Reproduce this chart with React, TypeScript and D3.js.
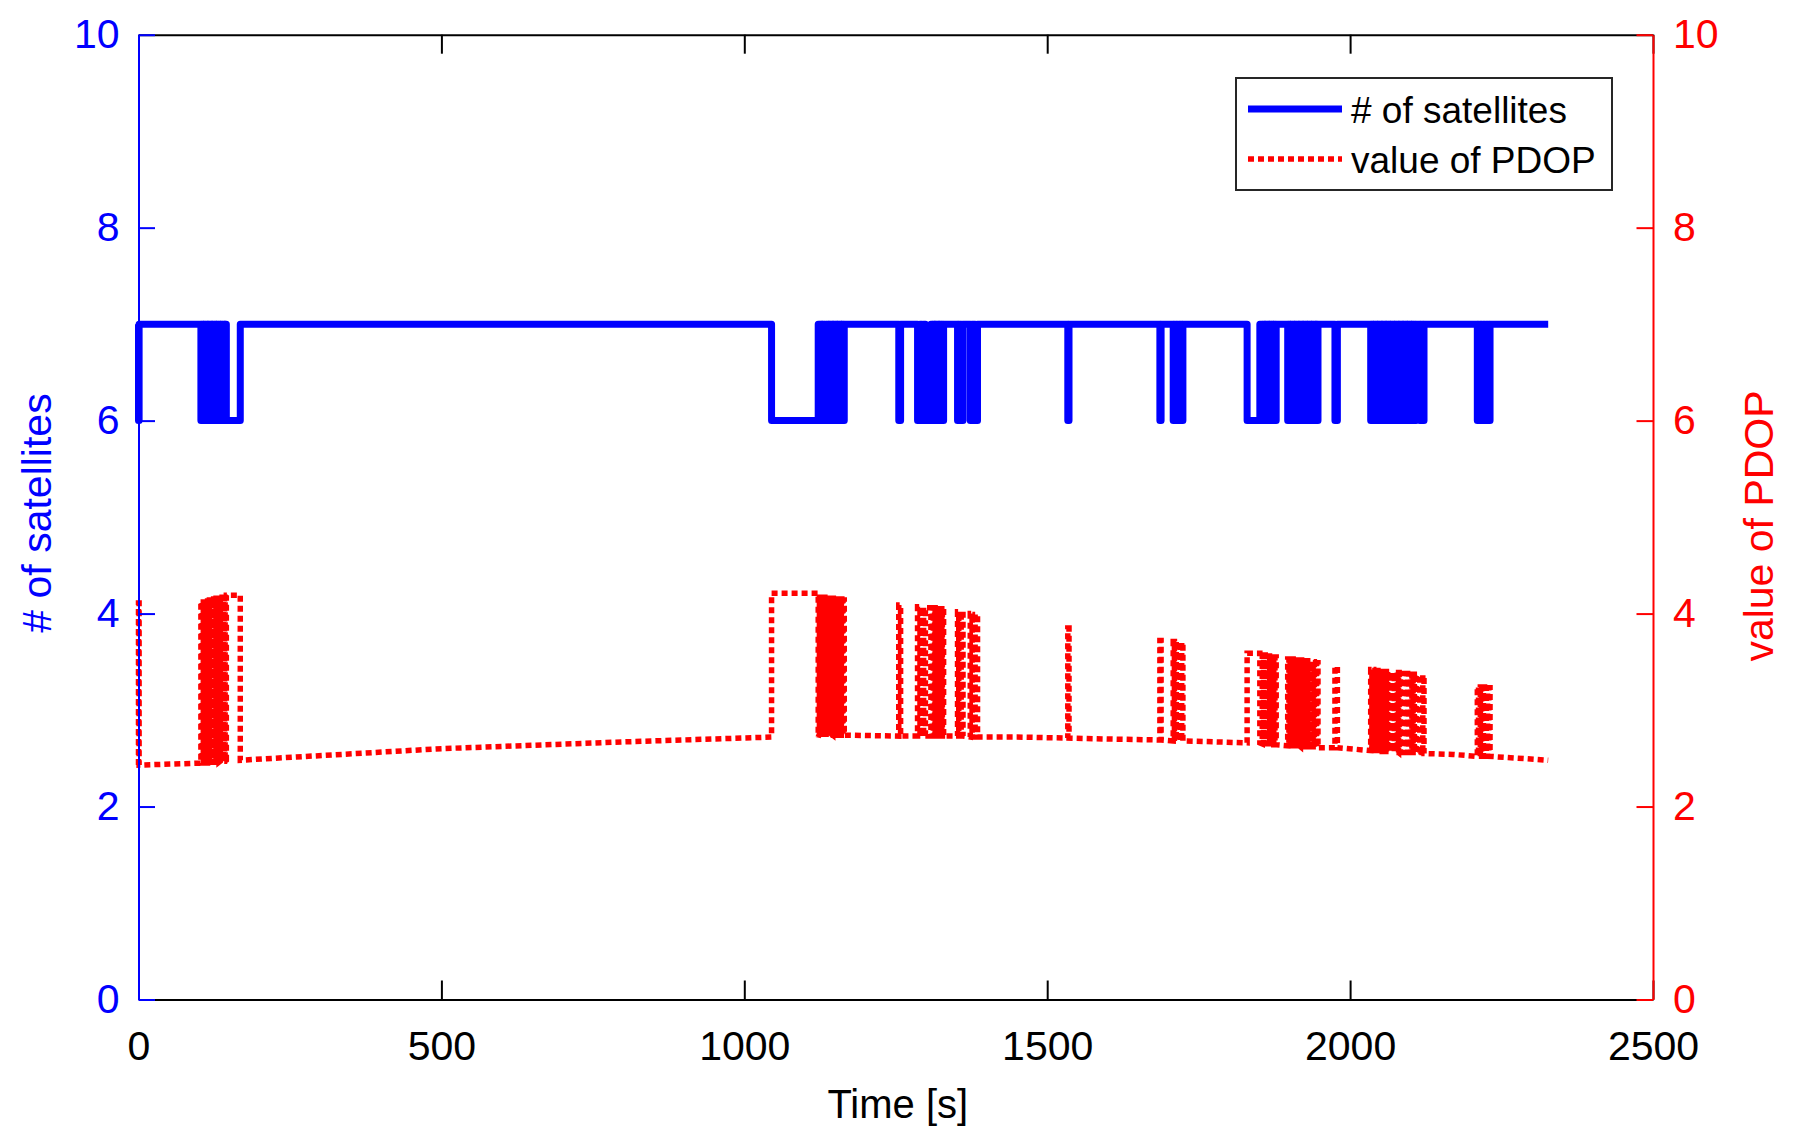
import React, { useEffect, useRef } from "react";
import * as d3 from "d3";

// Axis ticks
const xTicks = [0, 500, 1000, 1500, 2000, 2500];
const yTicks = [0, 2, 4, 6, 8, 10];

// Periods with only 6 satellites in view:
// [start s, end s, PDOP with 7 satellites, PDOP with 6 satellites]
type Drop = [number, number, number, number];

const dropsStart: Drop[] = [
  [0, 1, 2.43, 4.11],
  [103, 105, 2.45, 4.12],
  [107, 108, 2.45, 4.12],
  [110, 112, 2.45, 4.13],
  [114, 115, 2.45, 4.13],
  [117, 119, 2.46, 4.14],
  [121, 122, 2.46, 4.15],
  [124, 126, 2.46, 4.15],
  [128, 129, 2.46, 4.16],
  [131, 133, 2.46, 4.16],
  [135, 136, 2.47, 4.16],
  [138, 140, 2.47, 4.17],
  [142, 143, 2.47, 4.17],
  [145, 168, 2.48, 4.19],
];

const drops1000: Drop[] = [
  [1045, 1122, 2.72, 4.21],
  [1124, 1126, 2.75, 4.17],
  [1128, 1129, 2.75, 4.17],
  [1131, 1133, 2.75, 4.17],
  [1135, 1137, 2.75, 4.16],
  [1139, 1140, 2.75, 4.16],
  [1142, 1144, 2.75, 4.16],
  [1146, 1147, 2.74, 4.16],
  [1149, 1151, 2.74, 4.15],
  [1153, 1154, 2.74, 4.15],
  [1156, 1158, 2.74, 4.15],
  [1160, 1161, 2.74, 4.15],
  [1163, 1165, 2.74, 4.14],
  [1255, 1258, 2.73, 4.09],
  [1286, 1290, 2.73, 4.07],
  [1293, 1296, 2.73, 4.07],
  [1299, 1308, 2.73, 4.06],
  [1310, 1312, 2.73, 4.06],
  [1314, 1315, 2.73, 4.06],
  [1317, 1319, 2.73, 4.05],
  [1321, 1322, 2.73, 4.05],
  [1324, 1326, 2.73, 4.05],
  [1327, 1329, 2.73, 4.05],
  [1352, 1354, 2.73, 4.02],
  [1358, 1361, 2.73, 4.02],
  [1373, 1376, 2.72, 4.0],
  [1381, 1385, 2.72, 3.99],
];

const drops1500: Drop[] = [
  [1534, 1536, 2.71, 3.85],
  [1686, 1688, 2.69, 3.72],
  [1708, 1710, 2.68, 3.71],
  [1713, 1715, 2.68, 3.71],
  [1718, 1720, 2.68, 3.7],
  [1722, 1724, 2.68, 3.7],
  [1830, 1851, 2.66, 3.59],
  [1855, 1857, 2.65, 3.57],
  [1859, 1860, 2.65, 3.57],
  [1862, 1864, 2.65, 3.56],
  [1866, 1867, 2.65, 3.56],
  [1869, 1871, 2.65, 3.56],
  [1873, 1874, 2.64, 3.55],
  [1876, 1878, 2.64, 3.55],
  [1897, 1899, 2.63, 3.53],
  [1901, 1902, 2.63, 3.53],
  [1904, 1906, 2.63, 3.53],
  [1908, 1909, 2.63, 3.52],
  [1911, 1913, 2.63, 3.52],
  [1915, 1916, 2.63, 3.52],
  [1918, 1920, 2.62, 3.52],
  [1922, 1923, 2.62, 3.51],
  [1925, 1927, 2.62, 3.51],
  [1929, 1930, 2.62, 3.51],
  [1932, 1934, 2.62, 3.5],
  [1936, 1937, 2.62, 3.5],
  [1939, 1941, 2.62, 3.5],
  [1943, 1944, 2.61, 3.49],
  [1945, 1947, 2.61, 3.49],
  [1975, 1979, 2.61, 3.45],
];

const drops2000: Drop[] = [
  [2034, 2036, 2.58, 3.42],
  [2038, 2039, 2.58, 3.42],
  [2041, 2043, 2.58, 3.41],
  [2045, 2046, 2.58, 3.41],
  [2048, 2050, 2.58, 3.41],
  [2052, 2053, 2.57, 3.4],
  [2055, 2057, 2.57, 3.4],
  [2059, 2060, 2.57, 3.4],
  [2062, 2064, 2.57, 3.4],
  [2066, 2067, 2.57, 3.39],
  [2069, 2071, 2.57, 3.39],
  [2073, 2074, 2.57, 3.39],
  [2076, 2078, 2.57, 3.39],
  [2080, 2081, 2.56, 3.39],
  [2083, 2085, 2.56, 3.38],
  [2087, 2088, 2.56, 3.38],
  [2090, 2092, 2.56, 3.38],
  [2094, 2095, 2.56, 3.38],
  [2097, 2099, 2.56, 3.37],
  [2101, 2102, 2.56, 3.37],
  [2104, 2106, 2.56, 3.37],
  [2107, 2109, 2.56, 3.37],
  [2115, 2117, 2.56, 3.36],
  [2120, 2122, 2.55, 3.36],
  [2210, 2212, 2.52, 3.24],
  [2215, 2217, 2.52, 3.24],
  [2220, 2222, 2.52, 3.24],
  [2225, 2227, 2.52, 3.23],
  [2229, 2231, 2.52, 3.23],
];

// PDOP with 7 satellites between the drops (last point = end of record)
const baseTime = [500, 800, 1450, 1600, 1780, 2170, 2327];
const basePdop = [2.6, 2.67, 2.72, 2.7, 2.67, 2.54, 2.48];

interface Sample {
  t: number;
  sats: number;
  pdop: number;
}

const BLUE = "#0000ff";
const RED = "#ff0000";
const FONT = "'Liberation Sans', Arial, sans-serif";

const App: React.FC = () => {
  const svgRef = useRef<SVGSVGElement | null>(null);

  useEffect(() => {
    document.body.style.margin = "0";
    if (!svgRef.current) return;

    const width = 1807;
    const height = 1148;
    const left = 138.5;
    const right = 1653;
    const top = 34.7;
    const bottom = 999.5;

    const svg = d3
      .select(svgRef.current)
      .attr("width", width)
      .attr("height", height);
    svg.selectAll("*").remove();

    svg.append("rect").attr("width", width).attr("height", height).attr("fill", "#fff");

    // build the step series from the drop windows
    const samples: Sample[] = [];
    [...dropsStart, ...drops1000, ...drops1500, ...drops2000].forEach(
      ([s, e, p7, p6]) => {
        samples.push(
          { t: s, sats: 7, pdop: p7 },
          { t: s, sats: 6, pdop: p6 },
          { t: e, sats: 6, pdop: p6 },
          { t: e, sats: 7, pdop: p7 }
        );
      }
    );
    baseTime.forEach((t, i) => samples.push({ t, sats: 7, pdop: basePdop[i] }));
    samples.sort((a, b) => a.t - b.t);

    const x = d3.scaleLinear().domain([0, 2500]).range([left, right]);
    const yLeft = d3.scaleLinear().domain([0, 10]).range([bottom, top]);
    const yRight = d3.scaleLinear().domain([0, 10]).range([bottom, top]);

    // lignes de données
    const satLine = d3
      .line<Sample>()
      .x((d) => x(d.t))
      .y((d) => yLeft(d.sats));
    const pdopLine = d3
      .line<Sample>()
      .x((d) => x(d.t))
      .y((d) => yRight(d.pdop));

    svg
      .append("path")
      .datum(samples)
      .attr("d", satLine)
      .attr("fill", "none")
      .attr("stroke", BLUE)
      .attr("stroke-width", 7)
      .attr("stroke-linejoin", "round");

    svg
      .append("path")
      .datum(samples)
      .attr("d", pdopLine)
      .attr("fill", "none")
      .attr("stroke", RED)
      .attr("stroke-width", 5.5)
      .attr("stroke-dasharray", "6 4");

    const styleAxis = (
      g: d3.Selection<SVGGElement, unknown, null, undefined>,
      color: string
    ) => {
      g.attr("font-family", FONT).attr("font-size", 41);
      g.selectAll("path.domain").attr("stroke", color).attr("stroke-width", 2);
      g.selectAll(".tick line").attr("stroke", color).attr("stroke-width", 2);
      g.selectAll(".tick text").attr("fill", color);
    };

    // axes X (bas et haut)
    svg
      .append("g")
      .attr("transform", `translate(0, ${bottom})`)
      .call(
        d3
          .axisBottom(x)
          .tickValues(xTicks)
          .tickSize(-19)
          .tickSizeOuter(0)
          .tickPadding(31)
          .tickFormat(d3.format("d"))
      )
      .call((g) => styleAxis(g, "#000"));

    svg
      .append("g")
      .attr("transform", `translate(0, ${top})`)
      .call(
        d3
          .axisTop(x)
          .tickValues(xTicks)
          .tickSize(-19)
          .tickSizeOuter(0)
          .tickFormat(() => "")
      )
      .call((g) => styleAxis(g, "#000"));

    // axes Y
    svg
      .append("g")
      .attr("transform", `translate(${left}, 0)`)
      .call(d3.axisLeft(yLeft).tickValues(yTicks).tickSize(-16.5).tickSizeOuter(0).tickPadding(19))
      .call((g) => styleAxis(g, BLUE));

    svg
      .append("g")
      .attr("transform", `translate(${right}, 0)`)
      .call(d3.axisRight(yRight).tickValues(yTicks).tickSize(-16.5).tickSizeOuter(0).tickPadding(20))
      .call((g) => styleAxis(g, RED));

    // titres des axes
    svg
      .append("text")
      .attr("x", (left + right) / 2 + 2)
      .attr("y", 1118)
      .attr("text-anchor", "middle")
      .attr("font-family", FONT)
      .attr("font-size", 40)
      .attr("fill", "#000")
      .text("Time [s]");

    svg
      .append("text")
      .attr("transform", `translate(51, 513) rotate(-90)`)
      .attr("text-anchor", "middle")
      .attr("font-family", FONT)
      .attr("font-size", 41)
      .attr("fill", BLUE)
      .text("# of satellites");

    svg
      .append("text")
      .attr("transform", `translate(1773, 526) rotate(-90)`)
      .attr("text-anchor", "middle")
      .attr("font-family", FONT)
      .attr("font-size", 41)
      .attr("fill", RED)
      .text("value of PDOP");

    // légende
    const legend = svg.append("g");
    legend
      .append("rect")
      .attr("x", 1236)
      .attr("y", 78)
      .attr("width", 376)
      .attr("height", 112)
      .attr("fill", "#fff")
      .attr("stroke", "#262626")
      .attr("stroke-width", 2);

    const entries = [
      { label: "# of satellites", color: BLUE, width: 7, dash: null as string | null, y: 109 },
      { label: "value of PDOP", color: RED, width: 5.5, dash: "6 4", y: 159 },
    ];
    entries.forEach((d) => {
      legend
        .append("line")
        .attr("x1", 1248)
        .attr("x2", 1342)
        .attr("y1", d.y)
        .attr("y2", d.y)
        .attr("stroke", d.color)
        .attr("stroke-width", d.width)
        .attr("stroke-dasharray", d.dash);
      legend
        .append("text")
        .attr("x", 1351)
        .attr("y", d.y + 13.5)
        .attr("font-family", FONT)
        .attr("font-size", 37)
        .attr("fill", "#000")
        .text(d.label);
    });
  }, []);

  return (
    <div>
      <svg ref={svgRef} style={{ display: "block" }}></svg>
    </div>
  );
};

export default App;
